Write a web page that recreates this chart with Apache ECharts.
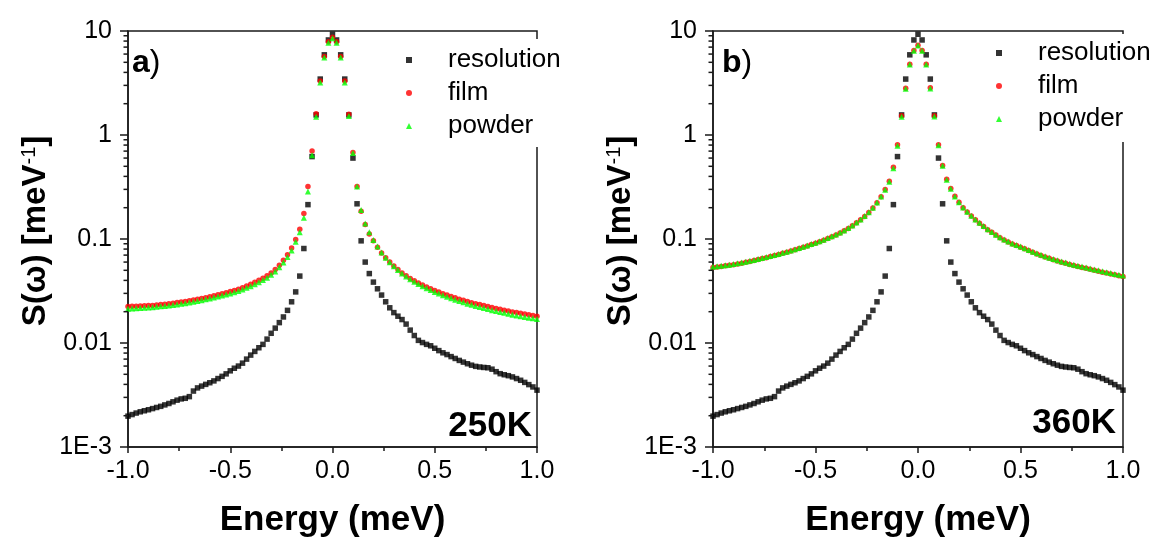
<!DOCTYPE html>
<html><head><meta charset="utf-8">
<script src="https://cdn.jsdelivr.net/npm/echarts@6/dist/echarts.min.js"></script>
<style>html,body{margin:0;padding:0;background:#fff}#c{width:1159px;height:543px}</style>
</head><body><div id="c"></div>
<script>
const energy = [-1.00,-0.98,-0.96,-0.94,-0.92,-0.90,-0.88,-0.86,-0.84,-0.82,-0.80,-0.78,-0.76,-0.74,-0.72,-0.70,-0.68,-0.66,-0.64,-0.62,-0.60,-0.58,-0.56,-0.54,-0.52,-0.50,-0.48,-0.46,-0.44,-0.42,-0.40,-0.38,-0.36,-0.34,-0.32,-0.30,-0.28,-0.26,-0.24,-0.22,-0.20,-0.18,-0.16,-0.14,-0.12,-0.10,-0.08,-0.06,-0.04,-0.02,0.00,0.02,0.04,0.06,0.08,0.10,0.12,0.14,0.16,0.18,0.20,0.22,0.24,0.26,0.28,0.30,0.32,0.34,0.36,0.38,0.40,0.42,0.44,0.46,0.48,0.50,0.52,0.54,0.56,0.58,0.60,0.62,0.64,0.66,0.68,0.70,0.72,0.74,0.76,0.78,0.80,0.82,0.84,0.86,0.88,0.90,0.92,0.94,0.96,0.98,1.00];

const resolution = [0.00198,0.00205,0.00212,0.00218,0.00223,0.00228,0.00234,0.00240,0.00246,0.00254,0.00262,0.00272,0.00282,0.00290,0.00294,0.00305,0.00345,0.00370,0.00385,0.00400,0.00415,0.00432,0.00455,0.00478,0.00505,0.00540,0.00572,0.00600,0.00640,0.00700,0.00765,0.00830,0.00900,0.00970,0.0109,0.0124,0.0139,0.0157,0.0178,0.0206,0.0249,0.0310,0.0440,0.0810,0.214,0.62,1.56,3.45,5.9,8.2,9.3,8.2,5.9,3.45,1.56,0.60,0.218,0.096,0.060,0.0465,0.0385,0.0332,0.0289,0.0249,0.0218,0.0196,0.0181,0.0168,0.0152,0.0133,0.0118,0.0106,0.0101,0.00970,0.00940,0.00890,0.00845,0.00805,0.00774,0.00740,0.00710,0.00680,0.00655,0.00632,0.00612,0.00596,0.00588,0.00582,0.00578,0.00560,0.00530,0.00507,0.00495,0.00485,0.00472,0.00455,0.00438,0.00418,0.00398,0.00378,0.00352];

const film250 = [0.0224,0.0225,0.0226,0.0227,0.0228,0.0229,0.0230,0.0232,0.0234,0.0236,0.0238,0.0241,0.0245,0.0248,0.0251,0.0255,0.0259,0.0263,0.0268,0.0273,0.0279,0.0285,0.0291,0.0297,0.0304,0.0312,0.0320,0.0329,0.0340,0.0353,0.0367,0.0383,0.0401,0.0420,0.0443,0.0472,0.0508,0.0560,0.0625,0.0705,0.0820,0.0990,0.124,0.176,0.320,0.700,1.60,3.30,5.70,7.90,8.70,7.90,5.70,3.30,1.58,0.68,0.32,0.185,0.138,0.112,0.096,0.0835,0.0735,0.0660,0.0600,0.0550,0.0508,0.0472,0.0443,0.0418,0.0397,0.0378,0.0361,0.0346,0.0332,0.0320,0.0309,0.0298,0.0289,0.0280,0.0272,0.0264,0.0257,0.0250,0.0244,0.0239,0.0234,0.0229,0.0224,0.0219,0.0215,0.0211,0.0207,0.0203,0.0199,0.0196,0.0193,0.0190,0.0187,0.0184,0.0181];

const powder250 = [0.0214,0.0215,0.0216,0.0217,0.0218,0.0219,0.0221,0.0223,0.0225,0.0227,0.0229,0.0232,0.0235,0.0238,0.0241,0.0245,0.0249,0.0253,0.0258,0.0263,0.0268,0.0274,0.0280,0.0286,0.0293,0.0300,0.0308,0.0317,0.0327,0.0339,0.0352,0.0367,0.0384,0.0403,0.0425,0.0452,0.0486,0.0534,0.0595,0.0670,0.0775,0.0940,0.116,0.160,0.287,0.64,1.50,3.20,5.55,7.70,8.50,7.70,5.55,3.20,1.52,0.67,0.32,0.190,0.141,0.116,0.098,0.0845,0.0740,0.0660,0.0598,0.0546,0.0503,0.0466,0.0436,0.0410,0.0388,0.0369,0.0352,0.0337,0.0323,0.0310,0.0299,0.0288,0.0279,0.0270,0.0261,0.0253,0.0246,0.0239,0.0233,0.0227,0.0222,0.0217,0.0212,0.0207,0.0203,0.0199,0.0195,0.0191,0.0187,0.0184,0.0181,0.0178,0.0175,0.0173,0.0170];

const film360 = [0.0533,0.0539,0.0545,0.0552,0.0559,0.0567,0.0576,0.0586,0.0597,0.0609,0.0621,0.0634,0.0648,0.0662,0.0677,0.0693,0.0710,0.0728,0.0747,0.0767,0.0788,0.0810,0.0833,0.0858,0.0884,0.0912,0.0942,0.0975,0.1010,0.1050,0.1095,0.1145,0.1200,0.1265,0.1340,0.1430,0.1530,0.1650,0.1800,0.1990,0.2230,0.2550,0.3000,0.3600,0.4900,0.8050,1.53,2.82,4.80,6.50,7.30,6.50,4.80,2.85,1.53,0.805,0.51,0.376,0.306,0.257,0.225,0.200,0.182,0.166,0.153,0.142,0.132,0.123,0.116,0.109,0.103,0.098,0.0935,0.0895,0.0865,0.0835,0.0805,0.0775,0.0745,0.0718,0.0695,0.0673,0.0652,0.0632,0.0614,0.0598,0.0583,0.0569,0.0556,0.0544,0.0533,0.0522,0.0511,0.0500,0.0490,0.0480,0.0470,0.0461,0.0452,0.0443,0.0435];

const powder360 = [0.0540,0.0547,0.0553,0.0560,0.0567,0.0575,0.0584,0.0594,0.0605,0.0617,0.0629,0.0642,0.0656,0.0670,0.0685,0.0701,0.0718,0.0736,0.0755,0.0775,0.0796,0.0818,0.0842,0.0867,0.0893,0.0921,0.0951,0.0984,0.1020,0.1060,0.1105,0.1155,0.1210,0.1275,0.1350,0.1440,0.1540,0.1660,0.1810,0.2000,0.2240,0.2560,0.2980,0.3550,0.4800,0.7900,1.50,2.78,4.75,6.45,7.25,6.45,4.75,2.80,1.51,0.795,0.505,0.372,0.304,0.256,0.225,0.201,0.183,0.167,0.154,0.143,0.133,0.124,0.117,0.110,0.104,0.0990,0.0945,0.0905,0.0875,0.0845,0.0815,0.0785,0.0755,0.0728,0.0705,0.0683,0.0662,0.0642,0.0624,0.0608,0.0593,0.0579,0.0566,0.0554,0.0543,0.0532,0.0521,0.0510,0.0500,0.0490,0.0480,0.0471,0.0462,0.0453,0.0445];

const yTickLabels = {'10':'10','1':'1','0.1':'0.1','0.01':'0.01','0.001':'1E-3'};
const minorYTicks = [0.002,0.003,0.004,0.005,0.006,0.007,0.008,0.009,0.02,0.03,0.04,0.05,0.06,0.07,0.08,0.09,0.2,0.3,0.4,0.5,0.6,0.7,0.8,0.9,2,3,4,5,6,7,8,9];
const seriesNames = ['resolution','film','powder'];
const panelLetters = ['a','b'];
const tempLabels = ['250K','360K'];
const xTitle = 'Energy (meV)';

const FONT = '"Liberation Sans", Arial, sans-serif';
const AX = '#1a1a1a';
const X_MIN = -1, X_MAX = 1, Y_MIN = 0.001, Y_MAX = 10;

const grids = [
  {left:128, top:31, width:409, height:420},
  {left:713, top:31, width:410, height:420}
];
const legendPos = [
  {left:403, top:39, padding:[8,22,8,3]},
  {left:993, top:34, padding:[6,4,10,3]}
];
const panels = [
  {film: film250, powder: powder250},
  {film: film360, powder: powder360}
];

const option = {
  backgroundColor:'#fff',
  animation:false,
  textStyle:{fontFamily:FONT},
  grid: grids.map(g => Object.assign({show:true, borderColor:AX, borderWidth:1.5, backgroundColor:'transparent', containLabel:false}, g)),
  xAxis: grids.map((g,i) => ({
    type:'value', gridIndex:i, min:X_MIN, max:X_MAX, interval:0.5,
    axisLine:{show:true, onZero:false, lineStyle:{color:AX, width:1.5}},
    axisTick:{show:true, length:6, lineStyle:{color:AX, width:1.5}},
    minorTick:{show:true, splitNumber:2, length:4, lineStyle:{color:AX, width:1.5}},
    splitLine:{show:false},
    axisLabel:{fontSize:25, color:'#000', margin:12, fontFamily:FONT, formatter:v=>v.toFixed(1)},
    name:xTitle, nameLocation:'middle', nameGap:56,
    nameTextStyle:{fontSize:35, fontWeight:'bold', color:'#000', fontFamily:FONT}
  })),
  yAxis: grids.map((g,i) => ({
    type:'log', logBase:10, gridIndex:i, min:Y_MIN, max:Y_MAX, position:'left',
    axisLine:{show:true, onZero:false, lineStyle:{color:AX, width:1.5}},
    axisTick:{show:true, length:8, lineStyle:{color:AX, width:1.5}},
    splitLine:{show:false},
    axisLabel:{fontSize:25, color:'#000', margin:16, fontFamily:FONT,
      formatter:v => { const k = String(+v.toPrecision(3)); return yTickLabels[k] !== undefined ? yTickLabels[k] : ''; }},
    name:'{a|S(ω) [meV}{s|-1}{a|]}', nameLocation:'middle', nameGap:76,
    nameTextStyle:{color:'#000', padding:[0,0,0,16], rich:{
      a:{fontSize:33, fontWeight:'bold', color:'#000', fontFamily:FONT},
      s:{fontSize:20, color:'#000', fontFamily:FONT, verticalAlign:'top'}
    }}
  })),
  legend: legendPos.map(p => ({
    orient:'vertical', left:p.left, top:p.top, padding:p.padding,
    itemWidth:6, itemHeight:6, itemGap:7, backgroundColor:'#fff', selectedMode:false,
    textStyle:{fontSize:26, lineHeight:26, color:'#000', fontFamily:FONT, padding:[0,0,0,31]},
    data:[{name:seriesNames[0], icon:'rect'},{name:seriesNames[1], icon:'circle'},{name:seriesNames[2], icon:'triangle'}]
  })),
  series: [],
  graphic: []
};

panels.forEach((p,i) => {
  option.series.push({
    type:'scatter', name:seriesNames[0], xAxisIndex:i, yAxisIndex:i, symbol:'rect', symbolSize:5.5,
    itemStyle:{color:'#000'}, silent:true, z:2,
    data: energy.map((e,k) => [e, resolution[k]])
  });
  option.series.push({
    type:'scatter', name:seriesNames[1], xAxisIndex:i, yAxisIndex:i, symbol:'circle', symbolSize:5.5,
    itemStyle:{color:'#ff0000'}, silent:true, z:3,
    data: energy.map((e,k) => [e, p.film[k]])
  });
  option.series.push({
    type:'scatter', name:seriesNames[2], xAxisIndex:i, yAxisIndex:i, symbol:'triangle', symbolSize:6,
    itemStyle:{color:'#00ff00'}, silent:true, z:4,
    data: energy.map((e,k) => [e, p.powder[k]])
  });
  // minor ticks (2..9 per decade) of the log axis, positioned through the axis scale
  option.series.push({
    type:'custom', name:'minorTicks'+i, xAxisIndex:i, yAxisIndex:i, silent:true, clip:false, z:5,
    data: minorYTicks.map(v => [X_MIN, v]),
    renderItem: (params, api) => {
      const pt = api.coord([api.value(0), api.value(1)]);
      return {type:'line', shape:{x1:pt[0]-4.5, y1:pt[1], x2:pt[0], y2:pt[1]}, style:{stroke:AX, lineWidth:1.5}};
    }
  });
});

const letterPos = [{x:132, y:63}, {x:722, y:63}];
const tempPos = [{x:532, y:426}, {x:1116, y:423}];
letterPos.forEach((lp,i) => {
  option.graphic.push({
    type:'text', x:lp.x, y:lp.y, z:10,
    style:{text:'{b|'+panelLetters[i]+'}{n|)}', verticalAlign:'middle', align:'left',
      rich:{b:{fontSize:32, fontWeight:'bold', fill:'#000', fontFamily:FONT}, n:{fontSize:32, fill:'#000', fontFamily:FONT}}}
  });
});
tempPos.forEach((tp,i) => {
  option.graphic.push({
    type:'text', x:tp.x, y:tp.y, z:10,
    style:{text:tempLabels[i], fontSize:35, fontWeight:'bold', fill:'#000', fontFamily:FONT, align:'right', verticalAlign:'middle'}
  });
});

const chart = echarts.init(document.getElementById('c'), null, {renderer:'canvas'});
chart.setOption(option);
</script>
</body></html>
